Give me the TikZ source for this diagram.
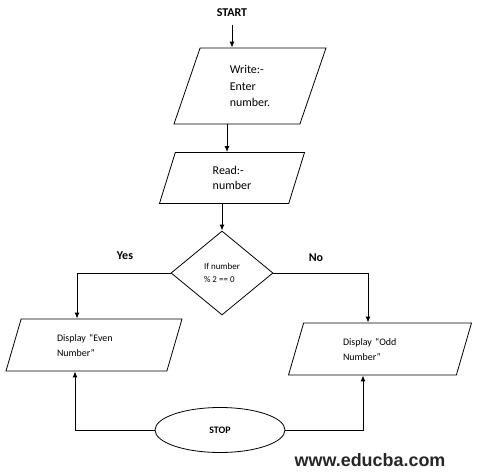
\documentclass[tikz,border=0pt]{standalone}
\usepackage{fontspec}
\setmainfont{Carlito}
\newfontfamily\webfont{Liberation Sans}
\usetikzlibrary{shapes.geometric,arrows.meta}

\tikzset{
  io/.style={draw, line width=0.8bp, trapezium, trapezium stretches body,
    trapezium left angle=60, trapezium right angle=120, align=left, inner sep=2bp},
  flow/.style={-{Latex[length=6bp,width=5bp]}, line width=1bp},
  tag/.style={font=\bfseries\fontsize{12}{14}\selectfont}
}

\begin{document}
\begin{tikzpicture}[x=1bp,y=-1bp]
\useasboundingbox (0,0) rectangle (477,475);

\node[tag] (start) at (232,13) {START};
\node[io, minimum width=152bp, minimum height=76bp,
  font=\fontsize{12}{16.5}\selectfont] (write) at (250,86)
{Write:-\\Enter\\number.};
\node[io, minimum width=145bp, minimum height=51bp,
  font=\fontsize{12}{15}\selectfont] (read) at (232,178)
{Read:-\\number};
\node[draw, line width=0.8bp, diamond, aspect=1.21, minimum width=102bp,
  minimum height=84bp, inner sep=0pt, align=left,
  font=\fontsize{9}{13}\selectfont] (test) at (222,273)
{If number\\\% 2 == 0};
\node[io, minimum width=176bp, minimum height=52bp, text width=74bp,
  font=\fontsize{10}{15}\selectfont] (even) at (94,345)
{Display “Even\\Number”};
\node[io, minimum width=183bp, minimum height=52bp, text width=74bp,
  font=\fontsize{10}{15}\selectfont] (odd) at (380,349)
{Display “Odd\\Number”};
\node[draw, line width=0.8bp, ellipse, minimum width=130bp,
  minimum height=45bp, font=\bfseries\fontsize{10}{12}\selectfont] (stop) at (220,430)
{STOP};

\node[tag] (yes) at (125,256) {Yes};
\node[tag] (no) at (316,258) {No};
\node[font=\webfont\bfseries\fontsize{18}{20}\selectfont, text=black!85] (web) at (370,460)
{www.educba.com};

\coordinate (wr) at ([xshift=-23bp]write.south);

\draw[flow, shorten <=5bp] (start.south) -- (start.south |- write.north);
\draw[flow] (wr) -- (wr |- read.north);
\draw[flow] (read.south -| test.north) -- (test.north);
\draw[flow] (test.west) -| ([xshift=-17bp]even.north);
\draw[flow] (test.east) -| ([xshift=-12bp]odd.north);
\draw[flow] (stop.west) -| ([xshift=-19bp]even.south);
\draw[flow] (stop.east) -| ([xshift=-17bp]odd.south);
\end{tikzpicture}
\end{document}
